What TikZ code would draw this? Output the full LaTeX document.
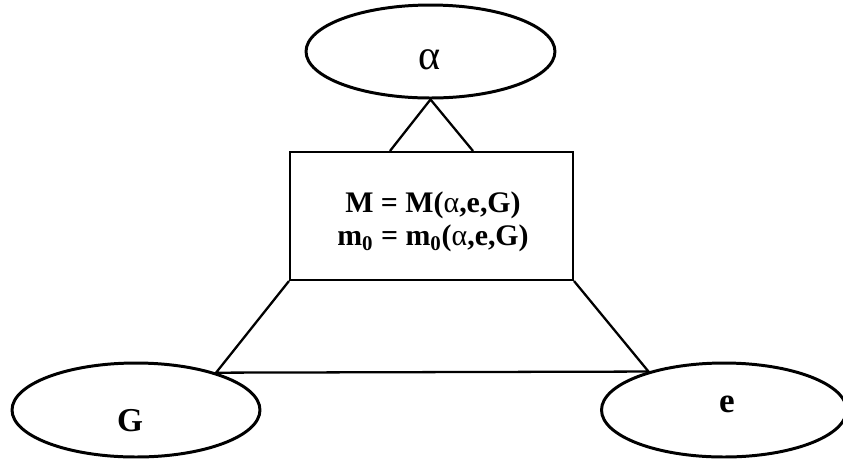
\documentclass[tikz,border=0pt]{standalone}
\usepackage{fontspec}
\setmainfont{Liberation Serif}
\usetikzlibrary{shapes.geometric,calc}
\tikzset{
  oval/.style={draw, ellipse, line width=1.7pt, inner sep=0pt,
               minimum width=4.96cm, minimum height=1.88cm},
  caixa/.style={draw, line width=1.2pt, inner sep=0pt,
                minimum width=5.66cm, minimum height=2.56cm},
  texto/.style={align=center, inner sep=0pt,
                font=\fontsize{17}{18.7}\selectfont\bfseries},
  linha/.style={line width=1.3pt},
  rotulo/.style={font=\fontsize{19}{19}\selectfont\bfseries, inner sep=0pt},
}

\begin{document}
\begin{tikzpicture}[x=0.02cm, y=-0.02cm]
  \useasboundingbox (0,0) rectangle (843,458);

  % Elipses
  \node[oval, minimum width=4.98cm, minimum height=1.86cm] (alfa) at (430.5,51.5) {};
  \node[oval] (G) at (136,410) {};
  \node[oval, minimum width=4.9cm] (e) at (724,410) {};
  \node[rotulo, font=\fontsize{24}{24}\selectfont] (alfatxt) at (430,60) {α};
  \node[rotulo] (Gtxt) at (130,421) {G};
  \node[rotulo, font=\fontsize{20}{20}\selectfont\bfseries] (etxt) at (727,404) {e};

  % Caixa central
  \node[caixa] (caixa) at (431.5,216) {};
  \node[texto] (caixatxt) at (433,222)
    {M = M({\mdseries α},e,G)\\m\textsubscript{0} = m\textsubscript{0}({\mdseries α},e,G)};

  % Ligações
  \coordinate (ta) at ($(caixa.north)+(-41.5,0)$);
  \coordinate (tb) at ($(caixa.north)+(41.5,0)$);
  \draw[linha] (ta) -- (alfa.south) -- (tb);
  \draw[linha] (caixa.south west) -- (G.25) -- (e.153) -- (caixa.south east);
\end{tikzpicture}
\end{document}
